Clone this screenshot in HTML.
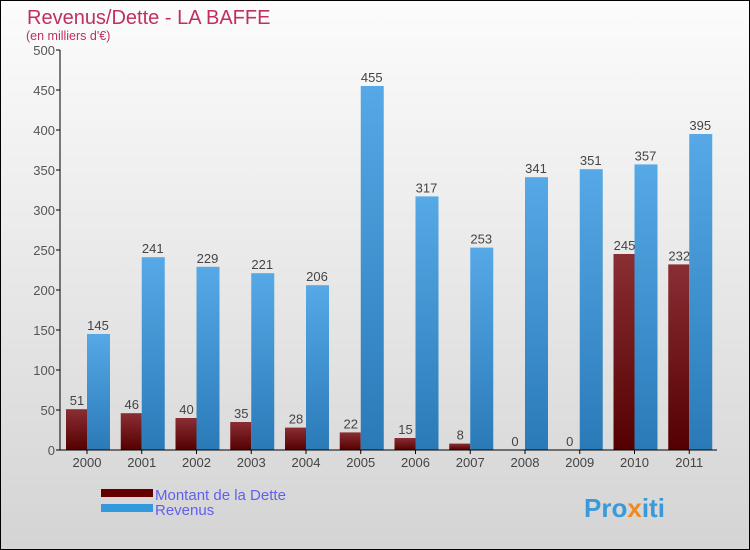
<!DOCTYPE html>
<html><head><meta charset="utf-8"><style>
body{margin:0}
#c{position:relative;width:748px;height:548px;border:1px solid #000;background:linear-gradient(#fcfcfc,#d4d4d4);font-family:"Liberation Sans","DejaVu Sans",sans-serif;overflow:hidden}
</style></head><body>
<div id="c">
<svg id="s" width="748" height="548">
<defs>
<linearGradient id="gd" x1="0" y1="0" x2="0" y2="1"><stop offset="0" stop-color="#8a2e34"/><stop offset="1" stop-color="#540000"/></linearGradient>
<linearGradient id="gr" x1="0" y1="0" x2="0" y2="1"><stop offset="0" stop-color="#56a9e6"/><stop offset="1" stop-color="#2a7ab8"/></linearGradient>
</defs>
<text x="26" y="23" font-size="20" fill="#c0305e">Revenus/Dette - LA BAFFE</text>
<text x="25" y="39" font-size="12.5" fill="#c0305e">(en milliers d'€)</text>
<g id="g"></g>
<rect x="100" y="488" width="52" height="8" fill="#640000"/>
<text x="154" y="499" font-size="15" fill="#6060ee">Montant de la Dette</text>
<rect x="100" y="503" width="52" height="8" fill="#3399dd"/>
<text x="154" y="514" font-size="15" fill="#6060ee">Revenus</text>
<text x="583" y="516" font-size="26" font-weight="bold" fill="#3a9ad9">Pro<tspan fill="#f08a1c">x</tspan>iti</text>
</svg>
</div>
<script>
const years=["2000","2001","2002","2003","2004","2005","2006","2007","2008","2009","2010","2011"];
const dette=[51,46,40,35,28,22,15,8,0,0,245,232];
const revenus=[145,241,229,221,206,455,317,253,341,351,357,395];
const ticks=[0,50,100,150,200,250,300,350,400,450,500];
const NS="http://www.w3.org/2000/svg";
const g=document.getElementById('g');
const y=v=>449-v*0.8, X0=59, step=54.75;
function el(t,a,txt){const e=document.createElementNS(NS,t);for(const k in a)e.setAttribute(k,a[k]);if(txt!==undefined)e.textContent=txt;g.appendChild(e);return e;}
ticks.forEach(t=>{
 const l=el('line',{x1:X0-4,x2:X0,y1:y(t),y2:y(t),stroke:'#000'});
 
 
 const tx=el('text',{x:X0-5,y:y(t)+5,'font-size':13,fill:'#555','text-anchor':'end'},t);
 
 
});
years.forEach((yr,i)=>{
 const gx=X0+i*step;
 const bd=el('rect',{x:gx+6,y:y(dette[i]),width:21,height:dette[i]*0.8,fill:'url(#gd)'});
 
 
 const br=el('rect',{x:gx+27,y:y(revenus[i]),width:23,height:revenus[i]*0.8,fill:'url(#gr)'});
 
 
 const ld=el('text',{x:gx+17,y:y(dette[i])-4,'font-size':13,fill:'#444','text-anchor':'middle'},dette[i]);
 
 
 const lr=el('text',{x:gx+38,y:y(revenus[i])-4,'font-size':13,fill:'#444','text-anchor':'middle'},revenus[i]);
 
 
 const tk=el('line',{x1:gx+27,x2:gx+27,y1:449,y2:453,stroke:'#000'});
 
 
 const xl=el('text',{x:gx+27,y:466,'font-size':13,fill:'#444','text-anchor':'middle'},yr);
 
 
});
const ya=el('line',{x1:X0,x2:X0,y1:y(500),y2:449,stroke:'#000'});


const xa=el('line',{x1:X0,x2:X0+12*step,y1:449,y2:449,stroke:'#000'});


</script>
</body></html>
